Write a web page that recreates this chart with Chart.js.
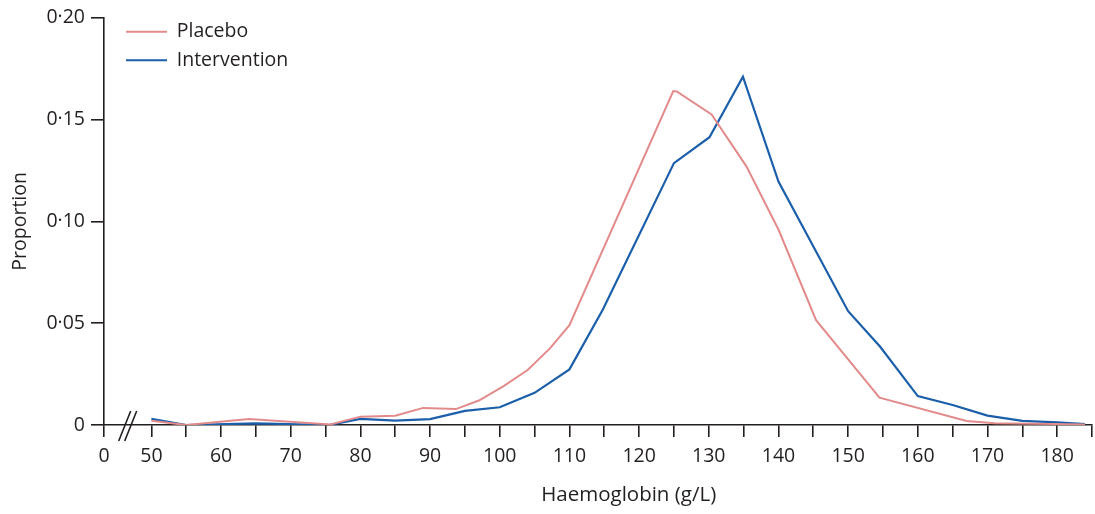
<!DOCTYPE html>
<html>
<head>
<meta charset="utf-8">
<title>Haemoglobin distribution</title>
<script src="https://cdn.jsdelivr.net/npm/chart.js@4.4.1/dist/chart.umd.min.js"></script>
<style>
  html, body { margin: 0; padding: 0; background: #fff; }
  #wrap { width: 1095px; height: 514px; position: relative; }
</style>
</head>
<body>
<div id="wrap"><canvas id="hbChart"></canvas></div>
<script>
// Haemoglobin (g/L) vs proportion
const placeboHb = [50, 55, 64, 75.7, 80, 85, 89, 93.7, 97, 100.5, 104, 107.2, 110, 124.9, 125.4, 130.4, 135.4, 140, 145.4, 154.5, 167, 171, 184];
const placeboProp = [0.0021, 0.0, 0.003, 0.0003, 0.0041, 0.0045, 0.0084, 0.0078, 0.012, 0.019, 0.027, 0.0376, 0.049, 0.164, 0.1638, 0.1525, 0.127, 0.096, 0.0515, 0.0134, 0.002, 0.0009, 0.0003];

const interventionHb = [50, 55, 65, 75.5, 80, 85, 90, 95, 100, 105, 110, 114.8, 125, 130.1, 134.9, 140, 150, 154.6, 160, 165, 170, 175, 180, 184];
const interventionProp = [0.003, 0.0, 0.0008, 0.0, 0.003, 0.0021, 0.0029, 0.0069, 0.0087, 0.0158, 0.0273, 0.0567, 0.1286, 0.1413, 0.171, 0.1195, 0.0559, 0.0384, 0.0142, 0.0098, 0.0046, 0.002, 0.0013, 0.0004];

// axis: broken x axis, "0" sits at the left end
const xBreakMin = 43.2;
const xTicks = [50, 55, 60, 65, 70, 75, 80, 85, 90, 95, 100, 105, 110, 115, 120, 125, 130, 135, 140, 145, 150, 155, 160, 165, 170, 175, 180, 185];

const INK = '#231f20';
const FONT = '"Open Sans", "Noto Sans", sans-serif';
const FS = 19.5;

const toPoints = (xs, ys) => xs.map((x, i) => ({ x: x, y: ys[i] }));

// little plugin: x title (centred on the data part) + the // break marks
const extras = {
    id: 'extras',
    afterLayout(chart) {
        // move legend to where it sits in the figure
        const lg = chart.legend;
        if (lg) {
            lg.left += 13;
            lg.top += 13;
        }
    },
    afterDraw(chart) {
        const ctx = chart.ctx;
        const xs = chart.scales.x;
        const y0 = chart.scales.y.getPixelForValue(0);
        ctx.save();

        // break marks
        const mid = (xs.getPixelForValue(xBreakMin) + xs.getPixelForValue(50)) / 2;
        ctx.strokeStyle = INK;
        ctx.lineWidth = 1.6;
        [-3, 3].forEach(d => {
            ctx.beginPath();
            ctx.moveTo(mid + d - 6, y0 + 16);
            ctx.lineTo(mid + d + 6, y0 - 14);
            ctx.stroke();
        });

        // x axis title
        ctx.fillStyle = INK;
        ctx.font = '20.5px ' + FONT;
        ctx.textAlign = 'center';
        ctx.textBaseline = 'middle';
        const cx = (xs.getPixelForValue(50) + xs.getPixelForValue(185)) / 2 + 7;
        ctx.fillText('Haemoglobin (g/L)', cx, 495);
        ctx.restore();
    }
};

new Chart(document.getElementById('hbChart'), {
    type: 'line',
    data: {
        datasets: [
            {
                label: 'Placebo',
                data: toPoints(placeboHb, placeboProp),
                borderColor: '#e38b8b',
                backgroundColor: '#e38b8b',
                borderWidth: 2,
                pointRadius: 0,
                tension: 0
            },
            {
                label: 'Intervention',
                data: toPoints(interventionHb, interventionProp),
                borderColor: '#1b5fab',
                backgroundColor: '#1b5fab',
                borderWidth: 2.2,
                pointRadius: 0,
                tension: 0
            }
        ]
    },
    options: {
        responsive: true,
        maintainAspectRatio: false,
        animation: false,
        layout: { padding: { top: 17, right: 3, left: 0, bottom: 0 } },
        plugins: {
            tooltip: { enabled: false },
            legend: {
                position: 'chartArea',
                align: 'start',
                labels: {
                    color: INK,
                    font: { family: FONT, size: FS },
                    boxWidth: 41,
                    boxHeight: 0,
                    padding: 9
                }
            }
        },
        scales: {
            x: {
                type: 'linear',
                min: xBreakMin,
                max: 185,
                afterBuildTicks: (scale) => {
                    scale.ticks = [{ value: xBreakMin }].concat(xTicks.map(v => ({ value: v })));
                },
                afterFit: (scale) => {
                    scale.height = 89;
                    scale.paddingRight = 0; // last tick has no label, axis runs to the edge
                },
                grid: { drawOnChartArea: false, tickLength: 12, color: INK, lineWidth: 1.6 },
                border: { display: true, color: INK, width: 1.6 },
                ticks: {
                    autoSkip: false,
                    maxRotation: 0,
                    padding: 8,
                    color: INK,
                    font: { family: FONT, size: FS },
                    callback: (v) => {
                        if (v === xBreakMin) return '0';
                        return v % 10 === 0 ? String(v) : '';
                    }
                }
            },
            y: {
                min: 0,
                max: 0.2,
                afterFit: (scale) => { scale.width = 104; },
                grid: { drawOnChartArea: false, tickLength: 13, color: INK, lineWidth: 1.6 },
                border: { display: true, color: INK, width: 1.6 },
                ticks: {
                    stepSize: 0.05,
                    padding: 6,
                    color: INK,
                    font: { family: FONT, size: FS },
                    callback: (v) => v === 0 ? '0' : v.toFixed(2).replace('.', '\u00b7')
                },
                title: {
                    display: true,
                    text: 'Proportion',
                    color: INK,
                    font: { family: FONT, size: FS },
                    padding: { top: 9, bottom: 0 }
                }
            }
        }
    },
    plugins: [extras]
});
</script>
</body>
</html>
